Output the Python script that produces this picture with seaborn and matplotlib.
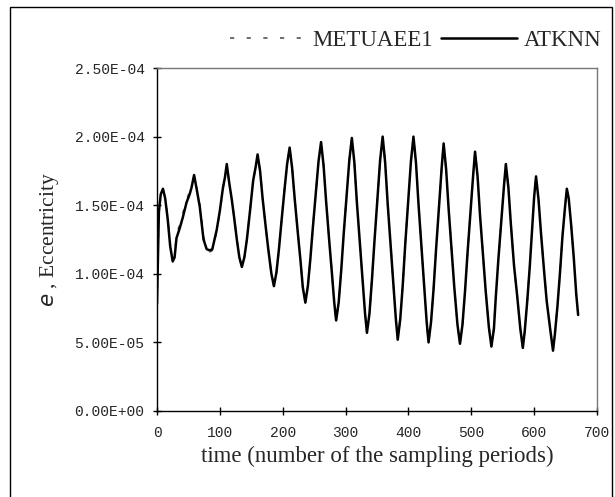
import numpy as np
import matplotlib
matplotlib.use("Agg")
import matplotlib.pyplot as plt
from matplotlib.patches import Rectangle
import seaborn as sns
import pandas as pd

# sampling period index and eccentricity (x1e-4)
t_pts = [0, 3, 6, 9.5, 13, 17, 21, 25, 28, 31, 36, 41, 47, 52, 55, 59,
         63, 68, 74, 79, 84, 88, 95, 100, 105, 108, 111,
         115, 119, 123, 127, 131, 135, 139, 143, 148, 153, 157, 160,
         164, 168, 173, 177, 182, 186, 190, 194, 198, 203, 207, 211,
         215, 219, 224, 228, 232, 236, 240, 244, 248, 253, 257, 261,
         265, 269, 274, 278, 282, 285, 289, 293, 297, 302, 306, 310,
         314, 318, 323, 327, 331, 334, 338, 342, 346, 351, 355, 359,
         363, 367, 372, 376, 380, 383, 387, 391, 395, 400, 404, 408,
         412, 416, 421, 425, 429, 432, 436, 440, 444, 449, 453, 456,
         460, 464, 469, 473, 478, 482, 486, 490, 494, 499, 503, 506,
         510, 514, 519, 523, 528, 532, 536, 539, 543, 548, 552, 555,
         559, 563, 568, 573, 578, 582, 585, 589, 593, 597, 600, 603,
         607, 611, 616, 620, 626, 630, 633, 637, 641, 645, 649, 652,
         655, 659, 663, 667, 670]

atknn = [0.78, 1.45, 1.58, 1.62, 1.55, 1.40, 1.20, 1.09, 1.12, 1.26, 1.33, 1.41, 1.52, 1.58, 1.63, 1.72,
         1.62, 1.49, 1.25, 1.18, 1.17, 1.18, 1.32, 1.46, 1.63, 1.70, 1.80,
         1.66, 1.54, 1.40, 1.25, 1.12, 1.05, 1.12, 1.25, 1.46, 1.68, 1.78, 1.87,
         1.75, 1.55, 1.34, 1.18, 1.00, 0.91, 1.01, 1.18, 1.38, 1.62, 1.80, 1.92,
         1.77, 1.55, 1.30, 1.11, 0.90, 0.79, 0.91, 1.11, 1.34, 1.61, 1.82, 1.96,
         1.79, 1.53, 1.24, 1.02, 0.79, 0.66, 0.79, 1.02, 1.29, 1.59, 1.83, 1.99,
         1.81, 1.52, 1.21, 0.97, 0.71, 0.57, 0.71, 0.96, 1.24, 1.57, 1.83, 2.00,
         1.81, 1.51, 1.19, 0.93, 0.67, 0.52, 0.67, 0.92, 1.22, 1.56, 1.82, 2.00,
         1.81, 1.51, 1.18, 0.92, 0.65, 0.50, 0.65, 0.89, 1.18, 1.52, 1.78, 1.95,
         1.76, 1.47, 1.15, 0.90, 0.63, 0.49, 0.63, 0.87, 1.15, 1.47, 1.72, 1.89,
         1.71, 1.42, 1.11, 0.87, 0.61, 0.47, 0.60, 0.83, 1.10, 1.40, 1.64, 1.80,
         1.63, 1.36, 1.06, 0.84, 0.60, 0.46, 0.58, 0.80, 1.05, 1.34, 1.56, 1.71,
         1.54, 1.29, 1.01, 0.80, 0.58, 0.44, 0.56, 0.76, 1.00, 1.27, 1.48, 1.62,
         1.55, 1.35, 1.12, 0.85, 0.70]

# METUAEE1 differs only slightly in the first cycles
metuaee1_early = [0.78, 1.47, 1.59, 1.61, 1.56, 1.42, 1.22, 1.10, 1.14, 1.28, 1.36, 1.44, 1.54, 1.60, 1.64, 1.71,
                  1.63, 1.51, 1.27, 1.19, 1.16, 1.17, 1.31, 1.45, 1.62, 1.70, 1.79]
metuaee1 = metuaee1_early + atknn[len(metuaee1_early):]

x_ticks = [0, 100, 200, 300, 400, 500, 600, 700]
y_ticks = [0.0, 5e-5, 1e-4, 1.5e-4, 2e-4, 2.5e-4]

df = pd.DataFrame({"t": t_pts,
                   "METUAEE1": np.array(metuaee1) * 1e-4,
                   "ATKNN": np.array(atknn) * 1e-4})

sns.set_theme(style="ticks")
plt.rcParams["font.family"] = ["Liberation Serif", "DejaVu Serif"]

fig = plt.figure(figsize=(6.15, 4.97), dpi=100)
ax = fig.add_axes([157 / 615, 1 - 411 / 497, 440 / 615, 343 / 497])

sns.lineplot(data=df, x="t", y="METUAEE1", ax=ax, color="#555555", lw=1.2,
             dashes=False, label="METUAEE1", estimator=None, sort=False)
ax.lines[-1].set_dashes((2.5, 7.5))
sns.lineplot(data=df, x="t", y="ATKNN", ax=ax, color="black", lw=1.8,
             label="ATKNN", estimator=None, sort=False)

ax.set_xlim(0, 700)
ax.set_ylim(0, 2.5e-4)
ax.set_xticks(x_ticks)
ax.set_xticklabels([str(v) for v in x_ticks], family="Liberation Mono", fontsize=10.5)
ax.set_yticks(y_ticks)
ax.set_yticklabels([f"{v:.2E}" for v in y_ticks], family="Liberation Mono", fontsize=10.5)
ax.tick_params(direction="inout", length=6, width=1, color="black", pad=6)
ax.tick_params(axis="x", pad=8)

for side in ["left", "bottom"]:
    ax.spines[side].set_color("black")
    ax.spines[side].set_linewidth(1.0)
for side in ["top", "right"]:
    ax.spines[side].set_visible(True)
    ax.spines[side].set_color("#777777")
    ax.spines[side].set_linewidth(1.0)

ax.set_xlabel("time (number of the sampling periods)", fontsize=16.5, labelpad=4)
ax.set_ylabel("$e$ , Eccentricity", fontsize=15.5, labelpad=10)

leg = ax.legend(loc="center right", bbox_to_anchor=(1.01, 1.08), ncol=2, frameon=False,
                fontsize=16.5, handlelength=3.3, handletextpad=0.3, columnspacing=0.35,
                borderaxespad=0, borderpad=0)

fig.patches.append(Rectangle((10 / 615, -0.01), 602 / 615, 1 - 7 / 497 + 0.01,
                             transform=fig.transFigure, fill=False,
                             edgecolor="black", lw=1.0))

fig.savefig("out.png", dpi=100)
